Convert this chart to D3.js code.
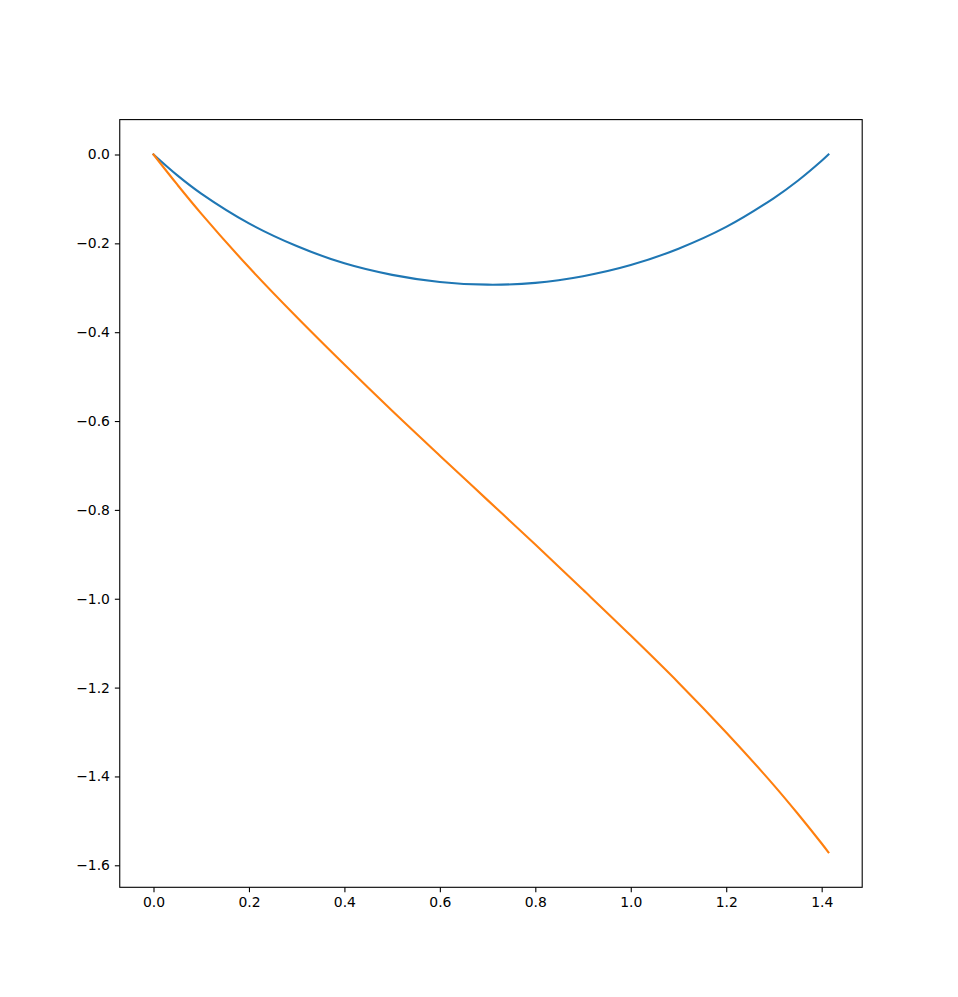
<!DOCTYPE html>
<html>
<head>
<meta charset="utf-8">
<script src="https://cdn.jsdelivr.net/npm/d3@7"></script>
<style>
  body { margin: 0; background: #fff; }
  .axis text { font-family: 'DejaVu Sans', sans-serif; font-size: 13.9px; fill: #000; }
  .axis line, .axis path { stroke: #000; stroke-width: 1.1; }
</style>
</head>
<body>
<div id="chart"></div>
<script>
// values
var xs = [0, 0.05, 0.1, 0.2, 0.3, 0.4, 0.5, 0.6, 0.7, 0.8, 0.9, 1.0, 1.1, 1.2, 1.3, 1.35, 1.4, 1.4142];
var blue = [0, -0.047, -0.088, -0.155, -0.206, -0.245, -0.271, -0.287, -0.293, -0.289, -0.274, -0.249, -0.212, -0.163, -0.098, -0.059, -0.014, 0];
var orange = [0, -0.068, -0.133, -0.254, -0.366, -0.473, -0.577, -0.678, -0.778, -0.878, -0.980, -1.083, -1.189, -1.301, -1.420, -1.484, -1.551, -1.571];
var xTicks = [0, 0.2, 0.4, 0.6, 0.8, 1.0, 1.2, 1.4];
var yTicks = [0, -0.2, -0.4, -0.6, -0.8, -1.0, -1.2, -1.4, -1.6];

var W = 958, H = 997;
var margin = {top: 119.6, right: 95.8, bottom: 109.7, left: 119.75};
var width = W - margin.left - margin.right;
var height = H - margin.top - margin.bottom;

// matplotlib style 5% padding
var xMin = d3.min(xs), xMax = d3.max(xs);
var yMin = d3.min(orange.concat(blue)), yMax = d3.max(orange.concat(blue));
var xPad = (xMax - xMin) * 0.05, yPad = (yMax - yMin) * 0.05;

var xScale = d3.scaleLinear()
  .domain([xMin - xPad, xMax + xPad])
  .range([0, width]);

var yScale = d3.scaleLinear()
  .domain([yMin - yPad, yMax + yPad])
  .range([height, 0]);

var fmt = function(d) { return d3.format('.1f')(d).replace('-', '\u2212'); };

var svg = d3.select('#chart').append('svg')
    .attr('width', W)
    .attr('height', H)
  .append('g')
    .attr('transform', 'translate(' + margin.left + ',' + margin.top + ')');

var line = d3.line()
  .x(function(d) { return xScale(d[0]); })
  .y(function(d) { return yScale(d[1]); })
  .curve(d3.curveCatmullRom);

var series = [
  {values: blue, color: '#1f77b4'},
  {values: orange, color: '#ff7f0e'}
];

svg.append('g')
    .attr('class', 'lines')
  .selectAll('path')
    .data(series)
  .enter().append('path')
    .attr('fill', 'none')
    .attr('stroke', function(d) { return d.color; })
    .attr('stroke-width', 2.1)
    .attr('stroke-linecap', 'square')
    .attr('d', function(d) {
      return line(xs.map(function(x, i) { return [x, d.values[i]]; }));
    });

svg.append('g')
  .attr('class', 'axis axis--x')
  .attr('transform', 'translate(0,' + height + ')')
  .call(d3.axisBottom(xScale).tickValues(xTicks).tickFormat(fmt).tickSize(4.9).tickPadding(4.9).tickSizeOuter(0));

svg.append('g')
  .attr('class', 'axis axis--y')
  .call(d3.axisLeft(yScale).tickValues(yTicks).tickFormat(fmt).tickSize(4.9).tickPadding(4.9).tickSizeOuter(0));

svg.selectAll('.axis .domain').remove();

// frame
svg.append('rect')
  .attr('width', width)
  .attr('height', height)
  .attr('fill', 'none')
  .attr('stroke', '#000')
  .attr('stroke-width', 1.1);
</script>
</body>
</html>
